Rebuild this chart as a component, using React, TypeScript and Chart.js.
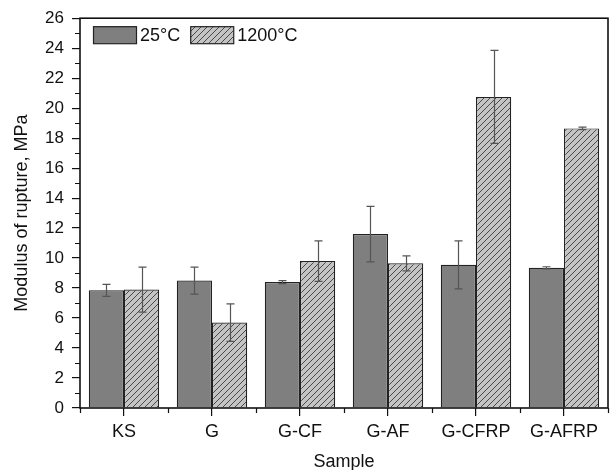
import React, { useEffect, useRef } from 'react';
import { Chart, registerables } from 'chart.js';

Chart.register(...registerables);

const categories = ['KS', 'G', 'G-CF', 'G-AF', 'G-CFRP', 'G-AFRP'];
const seriesLabels = ['25°C', '1200°C'];
const values25 = [7.85, 8.5, 8.4, 11.6, 9.55, 9.35];
const errors25 = [0.4, 0.9, 0.1, 1.85, 1.6, 0.07];
const values1200 = [7.9, 5.7, 9.8, 9.65, 20.75, 18.65];
const errors1200 = [1.5, 1.25, 1.35, 0.5, 3.1, 0.08];
const yTicks = [0, 2, 4, 6, 8, 10, 12, 14, 16, 18, 20, 22, 24, 26];
const yMinorTicks = [1, 3, 5, 7, 9, 11, 13, 15, 17, 19, 21, 23, 25];

const FONT = '"Liberation Sans", Arial, Helvetica, sans-serif';

function makeHatch(ctx: CanvasRenderingContext2D): CanvasPattern | string {
  const size = 6;
  const c = document.createElement('canvas');
  c.width = size;
  c.height = size;
  const g = c.getContext('2d');
  if (!g) return '#c4c4c4';
  g.fillStyle = '#c4c4c4';
  g.fillRect(0, 0, size, size);
  g.strokeStyle = '#4a4a4a';
  g.lineWidth = 1;
  g.beginPath();
  g.moveTo(-1, size + 1);
  g.lineTo(size + 1, -1);
  g.moveTo(-1, 1);
  g.lineTo(1, -1);
  g.moveTo(size - 1, size + 1);
  g.lineTo(size + 1, size - 1);
  g.stroke();
  return ctx.createPattern(c, 'repeat') || '#c4c4c4';
}

const errorBarPlugin = {
  id: 'errorBars',
  afterDatasetsDraw(chart: any) {
    const ctx = chart.ctx;
    const yScale = chart.scales.y;
    ctx.save();
    ctx.strokeStyle = '#555';
    ctx.lineWidth = 1.2;
    chart.data.datasets.forEach((ds: any, i: number) => {
      const meta = chart.getDatasetMeta(i);
      meta.data.forEach((bar: any, j: number) => {
        const v = ds.data[j];
        const e = ds.errors[j];
        const yTop = yScale.getPixelForValue(v + e);
        const yBot = yScale.getPixelForValue(v - e);
        const x = Math.round(bar.x) + 0.5;
        const cap = 4;
        ctx.beginPath();
        ctx.moveTo(x, yTop);
        ctx.lineTo(x, yBot);
        ctx.moveTo(x - cap, yTop);
        ctx.lineTo(x + cap, yTop);
        ctx.moveTo(x - cap, yBot);
        ctx.lineTo(x + cap, yBot);
        ctx.stroke();
      });
    });
    ctx.restore();
  },
};

const framePlugin = {
  id: 'frameAndMinor',
  afterDraw(chart: any) {
    const ctx = chart.ctx;
    const { left, right, top, bottom } = chart.chartArea;
    const xScale = chart.scales.x;
    const yScale = chart.scales.y;
    ctx.save();
    ctx.strokeStyle = '#111';
    ctx.lineWidth = 1.2;
    ctx.beginPath();
    yMinorTicks.forEach((v) => {
      const y = Math.round(yScale.getPixelForValue(v)) + 0.5;
      ctx.moveTo(left - 5, y);
      ctx.lineTo(left, y);
    });
    for (let i = 0; i <= categories.length; i++) {
      const x = Math.round(xScale.getPixelForValue(i - 0.5)) + 0.5;
      ctx.moveTo(x, bottom);
      ctx.lineTo(x, bottom + 5);
    }
    ctx.stroke();
    ctx.lineWidth = 1.6;
    ctx.strokeRect(left, top, right - left, bottom - top);
    ctx.restore();
  },
};

const legendPlugin = {
  id: 'insideLegend',
  afterDraw(chart: any) {
    const ctx = chart.ctx;
    const { left, top } = chart.chartArea;
    let x = left + 13;
    const y = top + 8;
    const bw = 43;
    const bh = 17;
    ctx.save();
    ctx.font = `18px ${FONT}`;
    ctx.textBaseline = 'middle';
    ctx.textAlign = 'left';
    chart.data.datasets.forEach((ds: any) => {
      ctx.fillStyle = ds.backgroundColor;
      ctx.fillRect(x, y, bw, bh);
      ctx.strokeStyle = '#222';
      ctx.lineWidth = 1.2;
      ctx.strokeRect(x + 0.5, y + 0.5, bw, bh);
      ctx.fillStyle = '#111';
      ctx.fillText(ds.label, x + bw + 4, y + bh / 2 + 1);
      x += bw + 4 + ctx.measureText(ds.label).width + 10;
    });
    ctx.restore();
  },
};

export default function App() {
  const ref = useRef<HTMLCanvasElement | null>(null);
  useEffect(() => {
    const canvas = ref.current;
    if (!canvas) return;
    const ctx = canvas.getContext('2d');
    if (!ctx) return;
    const hatch = makeHatch(ctx);
    const chart = new Chart(ctx, {
      type: 'bar',
      data: {
        labels: categories,
        datasets: [
          {
            label: seriesLabels[0],
            data: values25,
            errors: errors25,
            backgroundColor: '#7f7f7f',
            borderColor: '#222',
            borderWidth: 1.2,
            categoryPercentage: 0.8,
            barPercentage: 1.0,
          } as any,
          {
            label: seriesLabels[1],
            data: values1200,
            errors: errors1200,
            backgroundColor: hatch,
            borderColor: '#222',
            borderWidth: 1.2,
            categoryPercentage: 0.8,
            barPercentage: 1.0,
          } as any,
        ],
      },
      options: {
        animation: false,
        responsive: false,
        devicePixelRatio: 1,
        layout: { padding: { top: 17, right: 4, left: 0, bottom: 0 } },
        scales: {
          x: {
            offset: true,
            grid: {
              display: true,
              drawOnChartArea: false,
              offset: false,
              tickLength: 8,
              color: '#111',
              lineWidth: 1.2,
            },
            border: { display: false },
            ticks: { font: { family: FONT, size: 18 }, color: '#111', padding: 5, maxRotation: 0, autoSkip: false },
            title: {
              display: true,
              text: 'Sample',
              font: { family: FONT, size: 18, lineHeight: 1 },
              color: '#111',
              padding: { top: 0, bottom: -1 },
            },
            afterFit: (s: any) => {
              s.height = 62;
            },
          },
          y: {
            min: 0,
            max: 26,
            afterBuildTicks: (s: any) => {
              s.ticks = yTicks.map((v) => ({ value: v }));
            },
            grid: {
              display: true,
              drawOnChartArea: false,
              tickLength: 8,
              color: '#111',
              lineWidth: 1.2,
            },
            border: { display: false },
            ticks: { font: { family: FONT, size: 17 }, color: '#111', padding: 8 },
            title: {
              display: true,
              text: 'Modulus of rupture, MPa',
              font: { family: FONT, size: 18, lineHeight: 1.2 },
              color: '#111',
              padding: { top: 11, bottom: 0 },
            },
            afterFit: (s: any) => {
              s.width = 80;
            },
          },
        },
        plugins: {
          legend: { display: false },
          tooltip: { enabled: false },
        },
      } as any,
      plugins: [errorBarPlugin, framePlugin, legendPlugin],
    });
    return () => chart.destroy();
  }, []);
  return (
    <div style={{ position: 'fixed', left: 0, top: 0, width: 612, height: 470, background: '#fff' }}>
      <canvas ref={ref} width={612} height={470} style={{ display: 'block', width: 612, height: 470 }} />
    </div>
  );
}
